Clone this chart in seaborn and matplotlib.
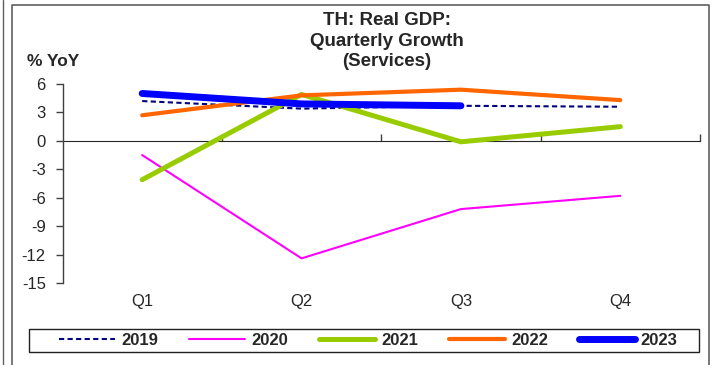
import pandas as pd
import matplotlib
matplotlib.use("Agg")
import matplotlib.pyplot as plt
import seaborn as sns
from matplotlib.lines import Line2D
from matplotlib.patches import Rectangle

# data
quarters = ['Q1', 'Q2', 'Q3', 'Q4']
years = ['2019', '2020', '2021', '2022', '2023']
g2019 = [4.2, 3.4, 3.7, 3.6]
g2020 = [-1.5, -12.4, -7.2, -5.8]
g2021 = [-4.1, 4.9, -0.1, 1.5]
g2022 = [2.7, 4.8, 5.4, 4.3]
g2023 = [5.0, 3.9, 3.7]
y_ticks = [6, 3, 0, -3, -6, -9, -12, -15]

series = [g2019, g2020, g2021, g2022, g2023]
colors = ['#000080', '#FF00FF', '#99CC00', '#FF6600', '#0000FF']
widths = [1.5, 1.5, 3.6, 3.0, 5.0]
styles = [(0, (2.5, 1.6)), '-', '-', '-', '-']

sns.set_style("white")
plt.rcParams['font.family'] = ['Liberation Sans', 'DejaVu Sans']

fig = plt.figure(figsize=(7.12, 3.65), dpi=100)
ax = fig.add_axes([62.5 / 712, 1 - 283 / 365, (700 - 62.5) / 712, (283 - 84) / 365])

for yr, vals, c, w, ls in zip(years, series, colors, widths, styles):
    df = pd.DataFrame({'Quarter': quarters[:len(vals)], 'Growth': vals})
    sns.lineplot(data=df, x='Quarter', y='Growth', ax=ax, color=c, linewidth=w,
                 linestyle=ls, solid_capstyle='round', sort=False, label=yr)

ax.set_xlim(-0.5, 3.5)
ax.set_ylim(-15, 6)
ax.set_yticks(y_ticks)
ax.set_yticklabels([str(t) for t in y_ticks], fontsize=12)
ax.set_xticks(range(len(quarters)))
ax.set_xticklabels(quarters, fontsize=12)
ax.set_xlabel('')
ax.set_ylabel('')
ax.tick_params(axis='x', length=0, pad=8)
ax.tick_params(axis='y', direction='out', length=5, width=1, color='#404040', pad=7, left=True)
for s in ['top', 'right', 'bottom']:
    ax.spines[s].set_visible(False)
ax.spines['left'].set_color('#404040')
ax.spines['left'].set_linewidth(1)

# zero line with category-boundary ticks
sec = ax.secondary_xaxis(15 / 21)
sec.set_xticks([0.5, 1.5, 2.5, 3.5])
sec.set_xticklabels([])
sec.tick_params(direction='out', length=5, width=1, color='#404040')
sec.spines['bottom'].set_color('#404040')
sec.spines['bottom'].set_linewidth(1)

ax.get_legend().remove()

# title and axis label
fig.text(387 / 712, 1 - 41 / 365, 'TH: Real GDP:\nQuarterly Growth\n(Services)', ha='center', va='center',
         fontsize=13.5, fontweight='bold', linespacing=1.3)
fig.text(53 / 712, 1 - 61 / 365, '% YoY', ha='center', va='center', fontsize=12.5, fontweight='bold')

# legend
handles = [Line2D([], [], color=c, lw=w, ls=ls, solid_capstyle='round')
           for c, w, ls in zip(colors, widths, styles)]
leg = fig.legend(handles, years, loc='center', bbox_to_anchor=(368.5 / 712, 1 - 340.5 / 365),
                 ncol=5, frameon=False, handlelength=3.36, handletextpad=0.36, columnspacing=1.86,
                 prop={'weight': 'bold', 'size': 12})
fig.add_artist(Rectangle((29 / 712, 1 - 352 / 365), (699 - 29) / 712, 23 / 365,
                         transform=fig.transFigure, fill=False, edgecolor='#202020', lw=1))

# chart frame
fig.add_artist(Line2D([3 / 712, 3 / 712], [0, 1], transform=fig.transFigure, color='#606060', lw=1))
fig.add_artist(Line2D([12 / 712, 12 / 712, 709 / 712, 709 / 712], [0, 1 - 5 / 365, 1 - 5 / 365, 0],
                      transform=fig.transFigure, color='#606060', lw=1.2))

fig.savefig('out.png', dpi=100)
